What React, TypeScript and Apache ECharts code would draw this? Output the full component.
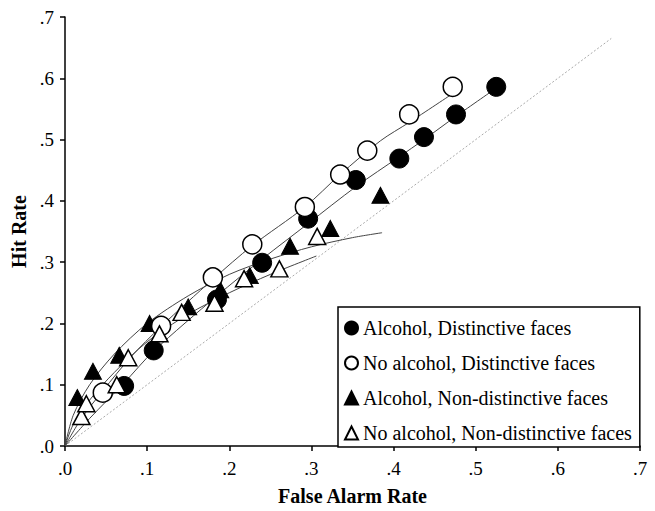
import React, { useEffect, useRef } from "react";
import * as echarts from "echarts";

const xTickLabels = [".0", ".1", ".2", ".3", ".4", ".5", ".6", ".7"];
const yTickLabels = [".0", ".1", ".2", ".3", ".4", ".5", ".6", ".7"];

const seriesNames = [
  "Alcohol, Distinctive faces",
  "No alcohol, Distinctive faces",
  "Alcohol, Non-distinctive faces",
  "No alcohol, Non-distinctive faces",
];

// observed points [false alarm rate, hit rate]
const alcDist = [
  [0.072, 0.098], [0.108, 0.156], [0.185, 0.239], [0.24, 0.299], [0.296, 0.371],
  [0.354, 0.434], [0.407, 0.469], [0.437, 0.504], [0.476, 0.541], [0.525, 0.586],
];
const noAlcDist = [
  [0.046, 0.087], [0.117, 0.196], [0.18, 0.275], [0.228, 0.329], [0.292, 0.39],
  [0.335, 0.443], [0.368, 0.482], [0.419, 0.541], [0.472, 0.586],
];
const alcNon = [
  [0.015, 0.079], [0.034, 0.122], [0.066, 0.148], [0.103, 0.2], [0.15, 0.227],
  [0.189, 0.255], [0.225, 0.278], [0.274, 0.326], [0.323, 0.355], [0.384, 0.409],
];
const noAlcNon = [
  [0.02, 0.048], [0.026, 0.069], [0.063, 0.1], [0.077, 0.144], [0.115, 0.183],
  [0.142, 0.218], [0.182, 0.233], [0.218, 0.273], [0.261, 0.289], [0.307, 0.342],
];

// fitted curves
const alcDistFit = [
  [0, 0], [0.03, 0.045], [0.072, 0.103], [0.108, 0.155], [0.185, 0.245], [0.24, 0.305],
  [0.296, 0.363], [0.354, 0.423], [0.407, 0.472], [0.437, 0.5], [0.476, 0.538], [0.525, 0.584],
];
const noAlcDistFit = [
  [0, 0], [0.02, 0.045], [0.046, 0.09], [0.08, 0.145], [0.117, 0.195], [0.18, 0.272],
  [0.228, 0.327], [0.292, 0.39], [0.335, 0.443], [0.384, 0.498], [0.419, 0.528], [0.472, 0.575],
];
const alcNonFit = [
  [0, 0], [0.01, 0.05], [0.03, 0.1], [0.06, 0.15], [0.1, 0.2], [0.15, 0.245],
  [0.2, 0.28], [0.25, 0.305], [0.3, 0.325], [0.35, 0.34], [0.386, 0.348],
];
const noAlcNonFit = [
  [0, 0], [0.01, 0.035], [0.03, 0.075], [0.06, 0.12], [0.1, 0.17], [0.15, 0.215],
  [0.2, 0.25], [0.25, 0.28], [0.306, 0.31],
];
const chanceLine = [
  [0, 0], [0.665, 0.665],
];

const FONT = "Liberation Serif";

export default function App() {
  const ref = useRef<HTMLDivElement>(null);

  useEffect(() => {
    if (!ref.current) return;
    const chart = echarts.init(ref.current, null, { renderer: "svg" });

    const fitLine = (name: string, data: number[][]) => ({
      name,
      type: "line",
      data,
      smooth: 0.3,
      showSymbol: false,
      symbol: "none",
      lineStyle: { color: "#444", width: 1 },
      z: 2,
      silent: true,
    });

    const filled = { color: "#000", borderColor: "#000", borderWidth: 1, opacity: 1 };
    const open = { color: "#fff", borderColor: "#000", borderWidth: 1.5, opacity: 1 };

    chart.setOption({
      animation: false,
      backgroundColor: "#fff",
      grid: { left: 65, top: 17, width: 575, height: 436, containLabel: false },
      xAxis: {
        type: "value",
        min: 0,
        max: 0.7,
        interval: 0.1,
        splitLine: { show: false },
        axisLine: { lineStyle: { color: "#000", width: 1.5 } },
        axisTick: { show: true, length: 5, lineStyle: { color: "#000", width: 1.5 } },
        axisLabel: {
          formatter: (v: number) => xTickLabels[Math.round(v * 10)],
          fontFamily: FONT,
          fontSize: 19,
          color: "#000",
          margin: 13,
        },
        name: "False Alarm Rate",
        nameLocation: "middle",
        nameGap: 40,
        nameTextStyle: { fontFamily: FONT, fontWeight: "bold", fontSize: 20, color: "#000" },
      },
      yAxis: {
        type: "value",
        min: 0,
        max: 0.7,
        interval: 0.1,
        splitLine: { show: false },
        axisLine: { show: true, lineStyle: { color: "#000", width: 1.5 } },
        axisTick: { show: true, length: 5, lineStyle: { color: "#000", width: 1.5 } },
        axisLabel: {
          formatter: (v: number) => yTickLabels[Math.round(v * 10)],
          fontFamily: FONT,
          fontSize: 19,
          color: "#000",
          margin: 11,
        },
        name: "Hit Rate",
        nameLocation: "middle",
        nameGap: 29,
        nameTextStyle: { fontFamily: FONT, fontWeight: "bold", fontSize: 20, color: "#000" },
      },
      legend: {
        orient: "vertical",
        left: 338,
        top: 307,
        data: seriesNames,
        itemWidth: 13,
        itemHeight: 13,
        itemGap: 15,
        padding: [11, 8, 4, 6],
        borderColor: "#000",
        borderWidth: 1.5,
        backgroundColor: "#fff",
        textStyle: { fontFamily: FONT, fontSize: 20, color: "#000" },
      },
      series: [
        {
          name: "chance",
          type: "line",
          data: chanceLine,
          showSymbol: false,
          symbol: "none",
          lineStyle: { color: "#aaa", width: 1, type: [2, 2] },
          z: 1,
          silent: true,
        },
        fitLine("fit-ad", alcDistFit),
        fitLine("fit-nd", noAlcDistFit),
        fitLine("fit-an", alcNonFit),
        fitLine("fit-nn", noAlcNonFit),
        {
          name: seriesNames[2],
          type: "scatter",
          data: alcNon,
          symbol: "triangle",
          symbolSize: [17, 16],
          itemStyle: filled,
          z: 3,
        },
        {
          name: seriesNames[0],
          type: "scatter",
          data: alcDist,
          symbol: "circle",
          symbolSize: 19,
          itemStyle: filled,
          z: 4,
        },
        {
          name: seriesNames[1],
          type: "scatter",
          data: noAlcDist,
          symbol: "circle",
          symbolSize: 19,
          itemStyle: open,
          z: 5,
        },
        {
          name: seriesNames[3],
          type: "scatter",
          data: noAlcNon,
          symbol: "triangle",
          symbolSize: [17, 16],
          itemStyle: open,
          z: 6,
        },
      ],
    });

    return () => chart.dispose();
  }, []);

  return (
    <div
      ref={ref}
      style={{ position: "absolute", left: 0, top: 0, width: 655, height: 511, background: "#fff" }}
    />
  );
}
